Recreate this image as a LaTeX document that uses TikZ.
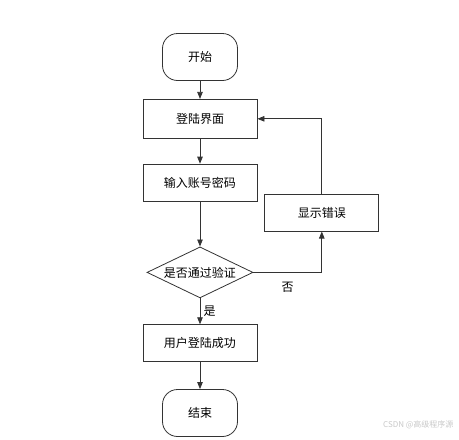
\documentclass[tikz,border=0pt]{standalone}
\usepackage{fontspec}
\newfontfamily\cjk{Noto Sans CJK SC}
\usetikzlibrary{positioning, arrows.meta, shapes.geometric}
\definecolor{lineclr}{HTML}{333333}
\definecolor{markgray}{HTML}{C8C8C8}

\begin{document}
\begin{tikzpicture}[
    x=1pt, y=1pt,
    node distance=25pt and 7pt,
    base/.style={draw=lineclr, line width=0.8pt, font=\cjk\fontsize{12}{14}\selectfont, fill=white},
    term/.style={base, rounded corners=15pt, minimum width=75pt, minimum height=47pt},
    procbox/.style={base, minimum width=114pt, minimum height=37pt},
    decide/.style={base, diamond, aspect=2, inner sep=0pt, minimum width=106pt, minimum height=51pt},
    tag/.style={font=\cjk\fontsize{12}{14}\selectfont},
    arr/.style={-{Triangle[length=7pt, width=5.5pt]}, line width=0.8pt, draw=lineclr},
  ]
  \useasboundingbox (0,0) rectangle (459,-440);

  % -- main flow --
  \node[term] (start) at (200,-57) {开始};
  \node[procbox, below=18pt of start, minimum height=39pt] (login) {登陆界面};
  \node[procbox, below=25pt of login] (input) {输入账号密码};
  \node[decide, below=45pt of input] (check) {是否通过验证};
  \node[procbox, below=26pt of check] (success) {用户登陆成功};
  \node[term, below=27pt of success] (finish) {结束};

  % -- error branch --
  \node[procbox, right=7pt of input, yshift=-30pt] (err) {显示错误};

  % -- connectors --
  \draw[arr] (start) -- (login);
  \draw[arr] (login) -- (input);
  \draw[arr] (input) -- (check);
  \draw[arr] (check) -- node[tag, right] {是} (success);
  \draw[arr] (success) -- (finish);
  \draw[arr] (check.east) -| node[tag, pos=0.25, below=6pt] {否} (err.south);
  \draw[arr] (err.north) |- (login.east);

  % watermark
  \node[font=\cjk\fontsize{8}{9}\selectfont, text=markgray, anchor=east] (mark) at (457,-425) {CSDN @高级程序源};

\end{tikzpicture}
\end{document}
